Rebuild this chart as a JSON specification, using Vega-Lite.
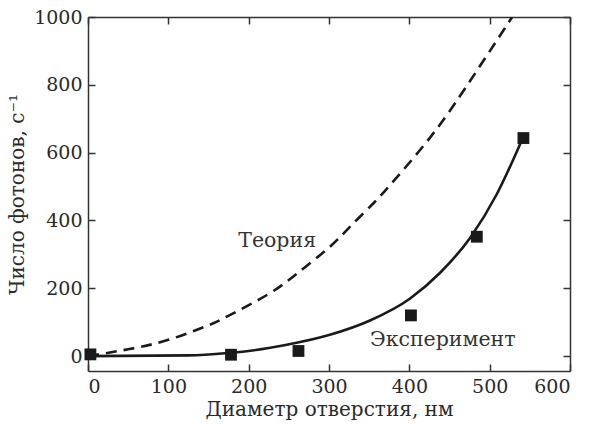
{
  "$schema": "https://vega.github.io/schema/vega-lite/v6.json",
  "autosize": "none",
  "width": 482,
  "height": 354,
  "padding": {"left": 88, "top": 17, "right": 32, "bottom": 53},
  "background": "white",
  "config": {
    "view": {"stroke": null},
    "font": "DejaVu Serif",
    "axis": {
      "domainColor": "#333333",
      "domainWidth": 1.5,
      "tickColor": "#333333",
      "tickWidth": 1.5,
      "tickSize": -7,
      "grid": false,
      "labelFont": "DejaVu Serif",
      "labelFontSize": 19,
      "labelColor": "#2a2a2a",
      "titleFont": "DejaVu Serif",
      "titleFontSize": 20,
      "titleFontWeight": "normal",
      "titleColor": "#2a2a2a"
    }
  },
  "datasets": {
    "theory": [
      {"d": 0, "n": 0}, {"d": 50, "n": 20}, {"d": 100, "n": 48}, {"d": 149, "n": 90},
      {"d": 174, "n": 118}, {"d": 224, "n": 182}, {"d": 261, "n": 245}, {"d": 299, "n": 318},
      {"d": 326, "n": 381}, {"d": 355, "n": 450}, {"d": 380, "n": 515}, {"d": 426, "n": 645},
      {"d": 463, "n": 767}, {"d": 492, "n": 870}, {"d": 517, "n": 960}, {"d": 528, "n": 1000}
    ],
    "fit": [
      {"d": 0, "n": 0}, {"d": 125, "n": 2}, {"d": 174, "n": 9}, {"d": 200, "n": 15}, {"d": 249, "n": 34},
      {"d": 300, "n": 62}, {"d": 351, "n": 105}, {"d": 401, "n": 170}, {"d": 438, "n": 245},
      {"d": 476, "n": 350}, {"d": 509, "n": 478}, {"d": 541, "n": 642}
    ],
    "measured": [
      {"d": 3, "n": 5}, {"d": 178, "n": 4}, {"d": 262, "n": 15},
      {"d": 402, "n": 120}, {"d": 484, "n": 352}, {"d": 542, "n": 643}
    ],
    "labels": [
      {"d": 187, "n": 322, "t": "Теория"},
      {"d": 351, "n": 31, "t": "Эксперимент"}
    ]
  },
  "resolve": {"axis": {"x": "independent", "y": "independent"}},
  "layer": [
    {
      "data": {"name": "theory"},
      "mark": {"type": "line", "color": "#1a1a1a", "strokeWidth": 2.6, "strokeDash": [11, 7], "interpolate": "natural", "clip": true},
      "encoding": {
        "x": {"field": "d", "type": "quantitative", "scale": {"domain": [0, 600], "nice": false},
          "axis": {"orient": "bottom", "values": [0, 100, 200, 300, 400, 500, 600], "format": "d", "title": "Диаметр отверстия, нм", "titlePadding": 3, "labelPadding": 13}},
        "y": {"field": "n", "type": "quantitative", "scale": {"domain": [-44, 1000], "nice": false, "zero": false},
          "axis": {"orient": "left", "values": [0, 200, 400, 600, 800, 1000], "format": "d", "title": "Число фотонов, с⁻¹", "titlePadding": 6, "labelPadding": 13}}
      }
    },
    {
      "data": {"name": "fit"},
      "mark": {"type": "line", "color": "#1a1a1a", "strokeWidth": 2.6, "interpolate": "monotone"},
      "encoding": {
        "x": {"field": "d", "type": "quantitative", "axis": {"orient": "top", "values": [0, 100, 200, 300, 400, 500, 600], "labels": false, "title": null}},
        "y": {"field": "n", "type": "quantitative", "axis": {"orient": "right", "values": [0, 200, 400, 600, 800, 1000], "labels": false, "title": null}}
      }
    },
    {
      "data": {"name": "measured"},
      "mark": {"type": "square", "size": 140, "filled": true, "color": "#1a1a1a", "opacity": 1},
      "encoding": {
        "x": {"field": "d", "type": "quantitative", "axis": null},
        "y": {"field": "n", "type": "quantitative", "axis": null}
      }
    },
    {
      "data": {"name": "labels"},
      "mark": {"type": "text", "align": "left", "baseline": "alphabetic", "font": "DejaVu Serif", "fontSize": 20.5, "color": "#333333"},
      "encoding": {
        "x": {"field": "d", "type": "quantitative", "axis": null},
        "y": {"field": "n", "type": "quantitative", "axis": null},
        "text": {"field": "t"}
      }
    }
  ]
}
